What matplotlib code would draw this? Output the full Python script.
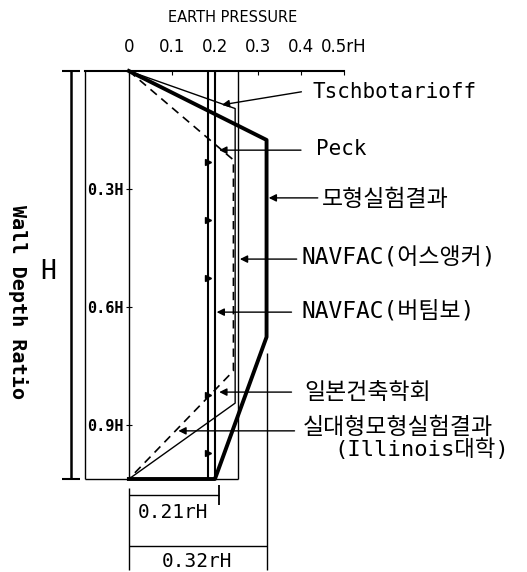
import numpy as np
import matplotlib
matplotlib.use("Agg")
import matplotlib.pyplot as plt

plt.rcParams['font.family'] = ['DejaVu Sans Mono', 'Noto Sans CJK KR']

# earth pressure (rH) vs depth ratio (H)
pressure_ticks = [0, 0.1, 0.2, 0.3, 0.4, 0.5]
pressure_labels = ['0', '0.1', '0.2', '0.3', '0.4', '0.5rH']
depth_ticks = [0.289, 0.578, 0.868]
depth_labels = ['0.3H', '0.6H', '0.9H']

tsch_x = [0, 0.247, 0.247, 0]
tsch_y = [0, 0.092, 0.814, 1.0]
peck_x = [0, 0.243, 0.243, 0]
peck_y = [0, 0.218, 0.735, 1.0]
model_x = [0, 0.32, 0.32, 0.2, 0]
model_y = [0, 0.169, 0.652, 1.0, 1.0]
navfac_anchor = 0.253
navfac_brace = 0.2
aij = 0.183
aij_marks = [0.223, 0.365, 0.507, 0.794, 0.936]
dim_values = [0.21, 0.32]

labels = ['Tschbotarioff', 'Peck', '모형실험결과', 'NAVFAC(어스앵커)',
          'NAVFAC(버팀보)', '일본건축학회', '실대형모형실험결과']

fig = plt.figure(figsize=(5.27, 5.72), dpi=100)
ax = fig.add_axes([85/527, 1-479/572, (344-85)/527, (479-71)/572])
ax.set_xlim(-0.102, 0.5)
ax.set_ylim(1.0, 0.0)

# axes / frame
ax.spines['right'].set_visible(False)
ax.spines['bottom'].set_visible(False)
ax.spines['top'].set_linewidth(1.5)
ax.spines['left'].set_position(('data', 0))
ax.spines['left'].set_linewidth(1.0)
ax.xaxis.tick_top()
ax.set_xticks(pressure_ticks)
ax.set_xticklabels(pressure_labels, fontfamily='DejaVu Sans', fontsize=12)
ax.tick_params(axis='x', direction='in', length=3, pad=11)
ax.set_yticks(depth_ticks)
ax.set_yticklabels(depth_labels, fontsize=11, fontweight='bold')
ax.tick_params(axis='y', direction='inout', length=5, pad=1)

k = dict(color='black', clip_on=False, solid_capstyle='butt')
ax.plot([-0.102, -0.102], [0, 1], lw=1.0, **k)
ax.plot([-0.102, navfac_anchor], [1, 1], lw=1.0, **k)

# pressure diagrams
ax.plot(tsch_x, tsch_y, lw=1.0, **k)
ax.plot(peck_x, peck_y, lw=1.2, ls=(0, (5, 3.5)), color='black', clip_on=False)
ax.plot(model_x, model_y, lw=2.8, color='black', clip_on=False, solid_joinstyle='round')
ax.plot([navfac_anchor, navfac_anchor], [0, 1], lw=1.0, **k)
ax.plot([navfac_brace, navfac_brace], [0, 1], lw=1.5, **k)
ax.plot([aij, aij], [0, 1], lw=1.5, **k)
ax.plot([aij] * len(aij_marks), aij_marks, ls='none', marker='>', ms=5, color='black')

# leaders
leaders = [
    ((0.216, 0.083), (0.401, 0.051), (0.427, 0.051)),
    ((0.21, 0.194), (0.40, 0.194), (0.436, 0.191)),
    ((0.325, 0.311), (0.439, 0.311), (0.448, 0.316)),
    ((0.258, 0.461), (0.39, 0.461), (0.401, 0.458)),
    ((0.204, 0.591), (0.378, 0.591), (0.401, 0.588)),
    ((0.21, 0.787), (0.378, 0.787), (0.408, 0.789)),
    ((0.115, 0.882), (0.385, 0.882), (0.404, 0.873)),
]
for (tip, tail, pos), lab in zip(leaders, labels):
    ax.annotate('', xy=tip, xytext=tail, annotation_clip=False,
                arrowprops=dict(arrowstyle='-|>', mutation_scale=11, lw=1.0,
                                color='black', shrinkA=0, shrinkB=0))
    size = 15 if lab.isascii() else 16.5
    ax.text(pos[0], pos[1], lab, fontsize=size, ha='left', va='center', clip_on=False)
ax.text(0.68, 0.926, '(Illinois대학)', fontsize=16, ha='center', va='center', clip_on=False)

# dimension lines at bottom
ax.plot([0, 0], [1.022, 1.223], lw=1.0, **k)
ax.plot([0, dim_values[0]], [1.039, 1.039], lw=1.0, **k)
ax.plot([dim_values[0]] * 2, [1.015, 1.064], lw=1.3, **k)
ax.text(0.102, 1.081, '%.2frH' % dim_values[0], fontsize=14, ha='center', va='center')
ax.plot([0, dim_values[1]], [1.164, 1.164], lw=1.0, **k)
ax.plot([dim_values[1]] * 2, [0.691, 1.223], lw=1.0, **k)
ax.text(0.158, 1.201, '%.2frH' % dim_values[1], fontsize=14, ha='center', va='center')

# H dimension on the left
ax.plot([-0.1346, -0.1346], [0, 1], lw=1.8, **k)
for yy in [0, 1]:
    ax.plot([-0.155, -0.114], [yy, yy], lw=1.5, **k)
ax.text(-0.188, 0.493, 'H', fontsize=19, ha='center', va='center')
ax.text(-0.2575, 0.566, 'Wall Depth Ratio', fontsize=14.5, fontweight='bold',
        rotation=270, ha='center', va='center')

fig.text(233/527, 1-18/572, 'EARTH PRESSURE', fontfamily='DejaVu Sans',
         fontsize=10.5, ha='center', va='center')

fig.savefig('out.png', dpi=100)
